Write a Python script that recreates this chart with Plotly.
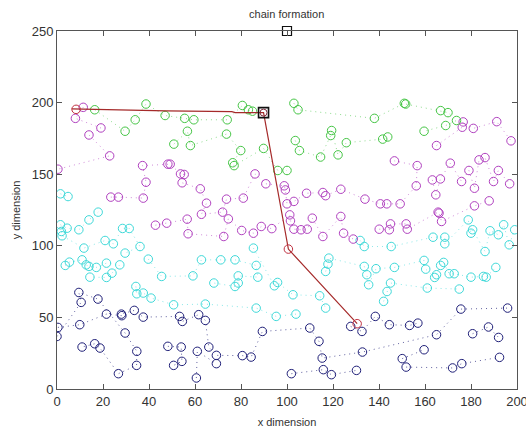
import plotly.graph_objects as go

# ---------------- data ----------------
blue_chains = [
    [(0.4, 43), (9.9, 44.9), (21.5, 52.3), (28.2, 51.2), (28, 52.3), (33.6, 54.9), (37.5, 50.2),
     (53.3, 50.7), (54.5, 47.2), (61.6, 51.9), (64.5, 47.9), (66, 29.3), (69.3, 23.5), (80.6, 23.3),
     (84.4, 22.3), (89.3, 40.2), (109.9, 42.6), (113.9, 33.3), (115.3, 21.6), (132.8, 25.8),
     (165, 37.9), (175.6, 55.8), (195.9, 56.5)],
    [(0, 36.7), (10.5, 60.5), (9.5, 67.4), (17.8, 62.8), (29.6, 39.1), (34.7, 26.3), (34.6, 16.5),
     (26.7, 10.7), (18.7, 28.6), (16.4, 31.6), (10.9, 29.3)],
    [(48.2, 29.8), (54, 29.3), (54.3, 19.3), (50.7, 16.5)],
    [(60.6, 7.7), (61, 26.3), (69.3, 17.7)],
    [(101.9, 10.7), (115.8, 13.5), (119.3, 10), (130.2, 13)],
    [(127.7, 43.7), (132.6, 40.2), (138.4, 50.7), (144.5, 44.9), (153.3, 44.4), (156.9, 46)],
    [(150.1, 21.2), (159.6, 27.4)],
    [(151.8, 15.3), (172, 14.7), (176, 17.7), (192.4, 22.1)],
    [(180.7, 38.6), (187.6, 43.3), (192, 36)],
]

cyan_chains = [
    [(1.5, 136.3), (4.8, 134.4)],
    [(1.5, 114.7), (4.4, 112.3), (9.5, 111.2), (13.9, 118.1), (17.9, 123.5)],
    [(1.9, 110), (2.2, 107), (11.7, 98.4), (20.9, 103.7), (24.5, 101.4), (28.5, 112.1),
     (31.4, 112.1), (36.1, 99.5), (29.6, 94.9)],
    [(3.6, 86.3), (5.4, 88.6), (10.9, 90.2), (12.7, 86.7), (13.9, 85.6), (17.1, 84.9), (21.5, 87.9),
     (27.3, 86.7), (23.9, 80.9), (21.5, 77.9), (14.3, 78.1)],
    [(39.7, 90.7), (45.5, 78.6), (59.1, 79), (62.8, 90.2), (71.2, 90.2), (77.4, 90.2), (86.6, 86.3),
     (87.3, 78.1), (78.8, 79), (78.8, 74), (77.4, 71.6), (68.2, 74)],
    [(34.3, 71.6), (34.7, 66.5), (37.5, 67), (40.9, 63.5), (50.7, 58.8), (64.5, 59.3), (86.6, 56.5),
     (95.3, 50.7), (103.9, 52.3)],
    [(85.4, 98.4), (94.5, 72.1), (95.9, 74.4), (102.6, 65.8), (114.2, 65.1), (116.8, 56.5)],
    [(116.8, 82.1), (117.8, 87.2), (118.2, 91.4), (133.6, 85.6), (134.7, 79.8), (135.5, 72.8),
     (138.7, 84), (146.7, 84.9), (159.6, 89.8), (160.3, 83.7), (164.2, 77.9), (165, 79.8),
     (166.8, 86.3), (168.1, 88.4), (170.5, 80.5), (172.7, 80.5), (180, 78.1), (185.4, 78.6),
     (186.6, 78.1), (190.8, 84.9)],
    [(131.8, 103.7), (133.6, 99.5), (145.3, 99.5), (163.5, 106), (168.6, 106), (168.6, 101.4),
     (178.8, 118.1), (180, 108.8), (180.7, 111.2), (186.1, 96), (188.3, 110.5), (191.9, 107.7),
     (194.2, 114.7), (196.6, 100.7), (199, 111.2)],
    [(142, 61.2), (143.5, 68.1), (145, 74), (161, 70.5), (174.9, 69.8)],
]

magenta_chains = [
    [(11.4, 196.7), (8, 189), (19.1, 182.3), (13.9, 177.4), (22.9, 162.8), (0.4, 153.5)],
    [(23.4, 134), (26.7, 134), (37.5, 133.3), (38.7, 144.4), (37.2, 156), (48.2, 157), (49.2, 157),
     (53.7, 150.2), (55.3, 149.8), (54.4, 144), (62.3, 139.8), (65, 129.8), (62.8, 122), (72, 123.5),
     (73.7, 132.6), (81, 133.3), (86.1, 150.2), (90.8, 143.3), (98.8, 141.9), (99.3, 139),
     (100, 129.3), (103, 131), (108.5, 136.7), (115.6, 137.2), (116.8, 135), (123.4, 139.5),
     (133.9, 132.6), (140.6, 129.3), (143.4, 129.3), (149.2, 129.3), (156.2, 141.9), (156.6, 156),
     (146.7, 159.3)],
    [(42.8, 114.4), (47.7, 115.8), (56.6, 118.6), (57, 108.4), (72.5, 106.5), (74.5, 118.8),
     (80.3, 110.7), (85.4, 108.8), (88.8, 113.5), (93.4, 112), (101.2, 121.6), (101.5, 117.4),
     (103, 111.6), (106.1, 111.2), (108.8, 111.6), (111, 119.3), (115.6, 106.5), (123.4, 120.5),
     (124.6, 108.8), (128.8, 104.7)],
    [(140.1, 111.6), (144.5, 111.2), (145, 115.3), (151.8, 115.3), (152.3, 111.6), (165.7, 123.5),
     (166.1, 122.8), (167.2, 117), (181.5, 127.9), (187.9, 131.4)],
    [(163.2, 146), (164.7, 135.6), (166.7, 146.7), (171, 157.7), (175.9, 144.9), (179.1, 152.6),
     (181.5, 140.2), (183.5, 160), (186.1, 161.6), (189.8, 144.9), (191.9, 152.6), (196.8, 143.3)],
    [(165, 170), (176.2, 182.8), (176.6, 186.5), (181, 182), (191.2, 186.7), (197.4, 173.3)],
]

green_chains = [
    [(16.4, 195), (29.6, 180), (34, 188), (38.7, 199), (47, 191), (55.5, 189), (59.5, 188), (74, 188),
     (80.6, 198), (83.2, 195), (85, 194)],
    [(50.8, 171), (56.7, 180), (58, 170), (73.7, 178), (79.9, 166.5), (76.4, 158), (77, 156),
     (89.8, 168), (96, 152.6), (100, 152.6)],
    [(103, 199.5), (104.8, 195), (138, 189), (151, 199.5), (151.6, 199), (166.8, 194.4), (170, 193),
     (173.7, 187.5), (169, 184), (159.6, 180)],
    [(103.6, 173.5), (105.4, 166.5), (114.6, 162), (119, 177), (119.4, 180.5), (122.2, 163.5),
     (125.8, 172), (141.6, 174.5), (143.8, 176)],
]

red_path = [(6.4, 195.6), (21.9, 194.9), (47.5, 194.2), (76, 193.7), (77.5, 193.0), (89.8, 193.0),
            (100.6, 97.7), (130.5, 45.6)]
red_heads = [(8.3, 195.3), (100.6, 97.7), (130.5, 45.6)]
leader = (89.8, 193.0)
base_station = (100, 250)

x_ticks = [0, 20, 40, 60, 80, 100, 120, 140, 160, 180, 200]
y_ticks = [0, 50, 100, 150, 200, 250]

# ---------------- figure ----------------
colors = {
    "blue": ("#1f1f78", "rgba(31,31,120,0.7)"),
    "cyan": ("#3fd9d9", "rgba(63,217,217,0.6)"),
    "magenta": ("#b040bf", "rgba(176,64,191,0.6)"),
    "green": ("#45c545", "rgba(69,197,69,0.6)"),
}
FONT = "Liberation Sans, Arial"

fig = go.Figure()
for name, chains in [("cyan", cyan_chains), ("magenta", magenta_chains),
                     ("green", green_chains), ("blue", blue_chains)]:
    mc, lc = colors[name]
    for ch in chains:
        fig.add_trace(go.Scatter(
            x=[p[0] for p in ch], y=[p[1] for p in ch],
            mode="lines+markers",
            line=dict(color=lc, width=1, dash="1px,4px"),
            marker=dict(symbol="circle-open", size=8.5, color=mc, line=dict(width=1, color=mc)),
            showlegend=False, hoverinfo="skip",
        ))

fig.add_trace(go.Scatter(
    x=[p[0] for p in red_path], y=[p[1] for p in red_path], mode="lines",
    line=dict(color="#a52a2a", width=1.2), showlegend=False, hoverinfo="skip"))
fig.add_trace(go.Scatter(
    x=[p[0] for p in red_heads], y=[p[1] for p in red_heads], mode="markers",
    marker=dict(symbol="circle-open", size=8.5, color="#c03040", line=dict(width=1, color="#c03040")),
    showlegend=False, hoverinfo="skip"))
fig.add_trace(go.Scatter(
    x=[leader[0]], y=[leader[1]], mode="markers",
    marker=dict(symbol="square-open", size=10, color="#111111", line=dict(width=1.6, color="#111111")),
    showlegend=False, hoverinfo="skip"))
fig.add_trace(go.Scatter(
    x=[leader[0]], y=[leader[1]], mode="markers",
    marker=dict(symbol="circle-open", size=7, color="#803040", line=dict(width=1, color="#803040")),
    showlegend=False, hoverinfo="skip"))
fig.add_trace(go.Scatter(
    x=[base_station[0]], y=[base_station[1]], mode="markers",
    marker=dict(symbol="square-open", size=9, color="#111111", line=dict(width=1.2, color="#111111")),
    showlegend=False, hoverinfo="skip", cliponaxis=False))

axis_common = dict(
    showgrid=False, zeroline=False, showline=True, linecolor="#555555", linewidth=1,
    mirror="ticks", ticks="inside", ticklen=5, tickcolor="#555555",
    ticklabeloverflow="allow", automargin=False,
    tickfont=dict(family=FONT, size=13, color="#333333"),
)
fig.update_layout(
    width=526, height=428,
    margin=dict(l=57, r=9, t=31, b=39),
    paper_bgcolor="white", plot_bgcolor="white",
    title=dict(text="chain formation", x=0.545, xanchor="center", y=0.975, yanchor="top",
               font=dict(family=FONT, size=11, color="#333333")),
    xaxis=dict(range=[0, 200], tickvals=x_ticks, **axis_common,
               title=dict(text="x dimension", standoff=12,
                          font=dict(family=FONT, size=11, color="#333333"))),
    yaxis=dict(range=[0, 250], tickvals=y_ticks, **axis_common,
               title=dict(text="y dimension", standoff=8,
                          font=dict(family=FONT, size=11, color="#333333"))),
)

fig.write_html("out.html")
